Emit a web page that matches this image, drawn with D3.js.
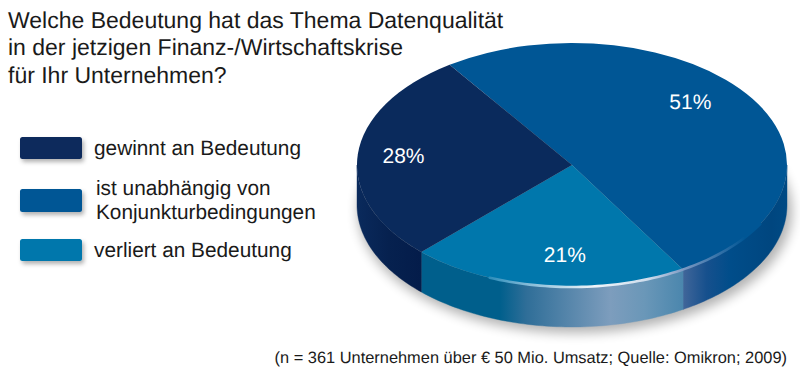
<!DOCTYPE html>
<html><head><meta charset="utf-8">
<script src="https://cdn.jsdelivr.net/npm/d3@7/dist/d3.min.js"></script>
<style>html,body{margin:0;padding:0;background:#fff}svg{display:block}text{font-family:"Liberation Sans",Arial,sans-serif;fill:#1a1a1a;text-rendering:geometricPrecision}</style>
</head><body><svg id="c" width="800" height="370"></svg>
<script>
const titleLines = ["Welche Bedeutung hat das Thema Datenqualität","in der jetzigen Finanz-/Wirtschaftskrise","für Ihr Unternehmen?"];
const categories = ["ist unabhängig von Konjunkturbedingungen","verliert an Bedeutung","gewinnt an Bedeutung"];
const values = [51,21,28];
const legendOrder = [2,0,1];
const legendLines = [["gewinnt an Bedeutung"],["ist unabhängig von","Konjunkturbedingungen"],["verliert an Bedeutung"]];
const sourceNote = "(n = 361 Unternehmen über € 50 Mio. Umsatz; Quelle: Omikron; 2009)";
const colors = ["#005695","#0077ac","#0a2a5c"];

const svg = d3.select("#c");
const cx=572, cy=165, rx=215, ry=122, depth=40;
const defs = svg.append("defs");
const grad=(id,x1,x2,stops)=>{const g=defs.append("linearGradient").attr("id",id).attr("gradientUnits","userSpaceOnUse")
  .attr("x1",x1).attr("x2",x2).attr("y1",0).attr("y2",0);
  stops.forEach(s=>g.append("stop").attr("offset",s[0]).attr("stop-color",s[1]));};
grad("side0",684,787,[[0,"#3f6599"],[0.22,"#16508d"],[0.45,"#004d8a"],[0.85,"#00467f"],[1,"#004a84"]]);
grad("side1",421,684,[[0,"#005f8c"],[0.3,"#005f8c"],[0.4,"#2f6e98"],[0.72,"#7d9dbd"],[0.85,"#6a97b8"],[1,"#4a86ad"]]);
grad("side2",357,421,[[0,"#0a2a5c"],[0.5,"#06214f"],[1,"#041c4a"]]);
defs.append("filter").attr("id","blur").attr("x","-20%").attr("y","-40%").attr("width","140%").attr("height","180%")
  .append("feGaussianBlur").attr("stdDeviation",6);
const sh=defs.append("filter").attr("id","swsh").attr("x","-20%").attr("y","-30%").attr("width","150%").attr("height","180%");
sh.append("feDropShadow").attr("dx",2).attr("dy",3).attr("stdDeviation",2).attr("flood-color","#000").attr("flood-opacity",0.3);
const rg=defs.append("linearGradient").attr("id","rim").attr("gradientUnits","userSpaceOnUse")
  .attr("x1",470).attr("x2",745).attr("y1",0).attr("y2",0);
[[0,"#0077ac"],[0.2,"#7fb8d6"],[0.45,"#f0f5fa"],[0.65,"#cddcec"],[0.78,"#7b98c2"],[1,"#005695"]]
  .forEach(s=>rg.append("stop").attr("offset",s[0]).attr("stop-color",s[1]));

const rad=d=>d*Math.PI/180;
const pie=d3.pie().sort(null).startAngle(rad(-34.7)).endAngle(rad(325.3));
const arcs=pie(values);
const ex=a=>cx+rx*Math.sin(a), ey=a=>cy-ry*Math.cos(a);

svg.append("ellipse").attr("cx",cx+3).attr("cy",cy+depth+6).attr("rx",rx+2).attr("ry",ry)
  .attr("fill","#000").attr("opacity",0.3).attr("filter","url(#blur)");

const line=d3.line();
const frontFrom=rad(90), frontTo=rad(270);
arcs.forEach((d,i)=>{
  const a0=Math.max(d.startAngle,frontFrom), a1=Math.min(d.endAngle,frontTo);
  if(a1<=a0) return;
  const t=d3.range(0,61).map(k=>a0+(a1-a0)*k/60);
  const pts=t.map(a=>[ex(a),ey(a)]).concat(t.slice().reverse().map(a=>[ex(a),ey(a)+depth]));
  svg.append("path").attr("d",line(pts)+"Z").attr("fill",`url(#side${i})`).attr("stroke",`url(#side${i})`).attr("stroke-width",0.4);
});
const arcGen=d3.arc().innerRadius(0).outerRadius(rx);
const face=svg.append("g").attr("transform",`translate(${cx},${cy}) scale(1,${ry/rx})`);
face.selectAll("path").data(arcs).join("path").attr("d",arcGen).attr("fill",(d,i)=>colors[i]);

{
  const a0=arcs[1].startAngle-rad(30), a1=arcs[1].endAngle-rad(22);
  const t=d3.range(0,61).map(k=>a0+(a1-a0)*k/60);
  svg.append("path").attr("d",line(t.map(a=>[ex(a),ey(a)])))
    .attr("fill","none").attr("stroke","url(#rim)").attr("stroke-width",2.6).attr("stroke-linecap","round");
}

const labelRadius=[0.756,0.74,0.785];
const labelTurn=[-10.1,-4.3,0.7];
arcs.forEach((d,i)=>{
  const m=(d.startAngle+d.endAngle)/2+rad(labelTurn[i]);
  const r=rx*labelRadius[i];
  const [x,y]=d3.arc().innerRadius(r).outerRadius(r).centroid({startAngle:m,endAngle:m});
  svg.append("text").attr("x",cx+x-0.5).attr("y",cy+y*ry/rx+7).attr("text-anchor","middle")
    .attr("font-size",21).style("fill","#fff").text(values[i]+"%");
});

svg.append("g").selectAll("text").data(titleLines).join("text")
  .attr("x",8).attr("y",(d,i)=>27.5+i*27.7).attr("font-size",23).text(d=>d);

const swatchY=[137,189,239], textY=[[155],[195,219],[257]];
legendOrder.forEach((c,i)=>{
  svg.append("rect").attr("x",20).attr("y",swatchY[i]).attr("width",62).attr("height",i==1?23:22).attr("rx",2.5)
    .attr("fill",colors[c]).attr("filter","url(#swsh)");
  legendLines[i].forEach((l,j)=>svg.append("text").attr("x",i==1?96:94).attr("y",textY[i][j]).attr("font-size",20.8).text(l));
});

svg.append("text").attr("x",787).attr("y",363).attr("text-anchor","end").attr("font-size",16.4).text(sourceNote);
</script></body></html>
